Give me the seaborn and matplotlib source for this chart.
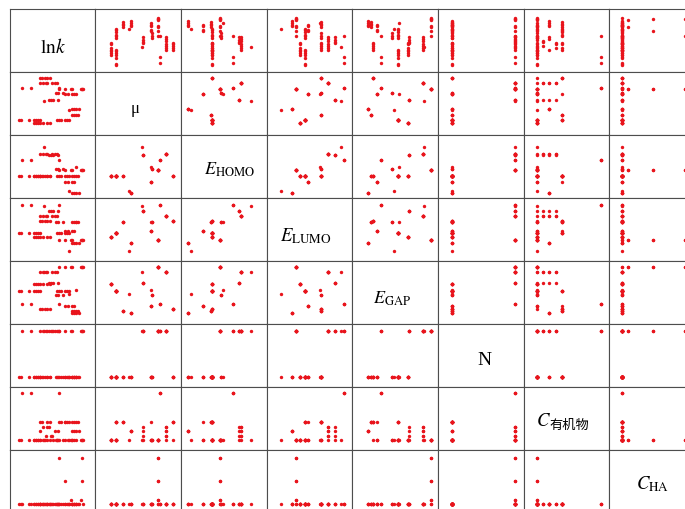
import matplotlib as mpl
mpl.use('Agg')
import matplotlib.pyplot as plt
import pandas as pd
import seaborn as sns

# Compound descriptors, one entry per compound
mu = [0.92, 1.20, 1.60, 2.02, 2.14, 2.76, 2.82, 3.34, 3.34, 3.40, 3.78, 3.86, 4.24, 4.70]
e_homo = [-8.86, -8.86, -8.88, -9.31, -9.39, -8.00, -8.25, -8.61, -9.04, -8.66, -8.68, -8.40, -8.22, -8.86]
e_lumo = [-1.47, -1.35, -1.01, -1.89, -1.64, -0.55, -0.69, -1.02, -1.29, -1.01, -1.55, -0.50, -0.85, -0.99]
e_gap = [7.49, 7.27, 6.67, 7.19, 6.62, 7.84, 7.51, 7.29, 6.81, 7.15, 8.00, 6.89, 7.83, 6.72]
n_count = [1, 1, 1, 1, 1, 2, 2, 1, 1, 1, 2, 2, 2, 1]

# Experiments: compound index, organic matter conc., humic acid conc., ln k
compound = [0, 0, 0, 0, 0, 0, 0,
            1, 1, 1, 1, 1, 1, 1, 1, 1, 1, 1, 1, 1,
            2, 2, 2, 2,
            3,
            4, 4, 4, 4,
            5,
            6, 6, 6, 6,
            7,
            8, 8, 8, 8,
            9, 9, 9,
            10, 10, 10, 10, 10, 10, 10, 10,
            11, 11, 11,
            12, 12, 12, 12, 12, 12, 12,
            13, 13, 13, 13, 13]
c_org = [0, 0, 0, 0, 0, 0, 0,
         0, 0, 0, 0, 0, 0, 0, 0, 19.5, 19.5, 19.5, 19.5, 19.5,
         19.5, 19.5, 19.5, 19.5,
         0,
         9.5, 9.5, 9.5, 9.5,
         0,
         0, 4.5, 9.5, 14.5,
         0,
         19.5, 0, 0, 0,
         0, 0, 0,
         0, 0, 0, 0, 0, 0, 0, 0,
         50, 50, 50,
         0, 4.5, 4.5, 9.5, 9.5, 14.5, 14.5,
         19.5, 19.5, 19.5, 19.5, 0]
c_ha = [0, 0, 0, 0, 0, 0, 0,
        0, 0, 0, 0, 0, 0, 0, 0, 0, 0, 0, 0, 0,
        0, 0, 0, 0,
        0,
        0, 0, 0, 0,
        0,
        0, 0, 0, 0,
        0,
        0, 0, 0, 0,
        0, 0, 0,
        0, 0, 1, 1, 5, 5, 10, 10,
        0, 0, 0,
        0, 0, 0, 0, 0, 0, 0,
        0, 0, 0, 0, 0]
lnk = [-3.10, -2.96, -2.81, -2.67, -2.52, -2.23, -2.08,
       -4.00, -3.88, -3.42, -3.10, -2.96, -2.81, -2.67, -1.65, -1.50, -1.38, -1.15, -1.02, -0.90,
       -0.71, -0.58, -0.44, -0.29,
       -0.90,
       -0.69, -0.54, -0.40, -0.25,
       -2.46,
       -1.85, -2.02, -1.56, -2.15,
       -0.40,
       -1.10, -0.96, -0.69, -0.54,
       -1.69, -1.54, -1.27,
       -0.65, 0.02, -0.75, -0.13, -1.10, -0.06, -1.48, -0.02,
       -3.83, -3.27, -1.48,
       -1.60, -2.33, -1.96, -2.69, -1.77, -2.50, -2.23,
       -2.73, -2.58, -2.23, -2.08, -2.38]

cols = ['lnk', 'mu', 'E_HOMO', 'E_LUMO', 'E_GAP', 'N', 'C_org', 'C_HA']
df = pd.DataFrame({
    'lnk': lnk,
    'mu': [mu[c] for c in compound],
    'E_HOMO': [e_homo[c] for c in compound],
    'E_LUMO': [e_lumo[c] for c in compound],
    'E_GAP': [e_gap[c] for c in compound],
    'N': [n_count[c] for c in compound],
    'C_org': c_org,
    'C_HA': c_ha,
})

# padding below / above the data range for each variable (fraction of range)
pads = {'lnk': (0.155, 0.19), 'mu': (0.26, 0.12), 'E_HOMO': (0.105, 0.25),
        'E_LUMO': (0.225, 0.14), 'E_GAP': (0.255, 0.117), 'N': (0.22, 0.147),
        'C_org': (0.21, 0.13), 'C_HA': (0.19, 0.16)}

plt.rcParams['mathtext.fontset'] = 'stix'
plt.rcParams['font.family'] = ['Liberation Serif', 'DejaVu Serif']

g = sns.PairGrid(df, vars=cols, height=0.63, aspect=1.36, despine=False)
g.map_offdiag(sns.scatterplot, color='#e8141c', s=6, linewidth=0)

fig = g.figure
fig.set_size_inches(6.85, 5.10)
fig.subplots_adjust(left=9.5 / 685, right=695.2 / 685, bottom=1 - 514.3 / 510,
                    top=1 - 10.3 / 510, wspace=0, hspace=0)

for i, c in enumerate(cols):
    lo, hi = df[c].min(), df[c].max()
    r = hi - lo
    lim = (lo - pads[c][0] * r, hi + pads[c][1] * r)
    g.axes[0, i].set_xlim(*lim)
    g.axes[i, 0].set_ylim(*lim)

for ax in g.axes.flat:
    ax.tick_params(left=False, bottom=False, labelleft=False, labelbottom=False)
    ax.set_xlabel('')
    ax.set_ylabel('')
    for sp in ax.spines.values():
        sp.set_color('#4d4d4d')
        sp.set_linewidth(0.8)

# diagonal labels: (text, x, y, size)
diag = [(r'$\mathrm{ln}k$', 0.505, 0.32, 14),
        ('μ', 0.467, 0.37, 12),
        (r'$E_{\mathrm{HOMO}}$', 0.564, 0.39, 13),
        (r'$E_{\mathrm{LUMO}}$', 0.459, 0.34, 13.5),
        (r'$E_{\mathrm{GAP}}$', 0.463, 0.35, 13),
        ('N', 0.54, 0.37, 14),
        (None, 0, 0, 0),
        (r'$C_{\mathrm{HA}}$', 0.498, 0.40, 13.5)]
for i, (txt, x, y, size) in enumerate(diag):
    if txt is None:
        continue
    g.axes[i, i].text(x, y, txt, transform=g.axes[i, i].transAxes,
                      ha='center', va='baseline', fontsize=size)

ax = g.axes[6, 6]
ax.text(0.23, 0.40, r'$C$', transform=ax.transAxes, ha='center', va='baseline', fontsize=13.5)
ax.text(0.305, 0.405, '有机物', transform=ax.transAxes, ha='left', va='center',
        fontsize=9.5, family=['Noto Sans CJK SC', 'DejaVu Sans'])

fig.savefig('out.png', dpi=100)
